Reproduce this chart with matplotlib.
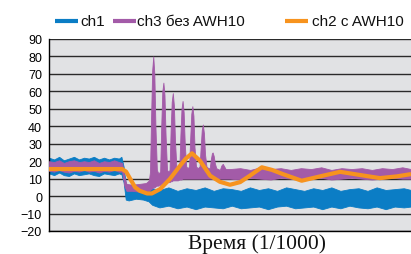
import numpy as np
import matplotlib
matplotlib.use("Agg")
import matplotlib.pyplot as plt
from matplotlib.lines import Line2D

# time axis 0..1000 (1/1000), y in the chart's units
# ch1 (blue) band: upper / lower envelope
t_ch1 = [0, 14, 28, 41, 55, 69, 83, 97, 110, 124, 138, 152, 166, 180, 193, 200,
         206, 212, 220, 240, 260, 275, 285,
         305, 330, 355, 380, 405, 430, 455, 480, 505, 530, 555, 580, 605, 630,
         655, 680, 705, 730, 755, 780, 805, 830, 855, 880, 905, 930, 955, 980, 1000]
ch1_hi = [22, 21, 22.5, 20.5, 21.5, 22.5, 21, 22, 21.5, 22.5, 21, 22, 21, 22, 21.5, 22.5,
          17, 7, 6, 6.5, 5.5, 6, 4.5,
          3.5, 5, 3, 4.5, 3.5, 5, 3, 4.5, 4, 3, 5, 3.5, 4.5, 3, 5, 4, 3, 4.5, 3.5,
          5, 3, 4, 4.5, 3, 5, 3.5, 4, 4.5, 3.5]
ch1_lo = [13, 12, 13.5, 12, 11.5, 13, 12, 12.5, 13, 12, 11.5, 13, 12.5, 12, 13, 12.5,
          8, -2, -2.5, -1.5, -2, -3, -5,
          -6.5, -5.5, -7, -6, -7.5, -6, -6.5, -7, -5.5, -7, -6.5, -6, -7.5, -6, -5.5,
          -7, -6.5, -6, -7.5, -6, -7, -5.5, -6.5, -7, -6, -7.5, -6, -6.5, -6]

# ch3 without AWH10 (purple) band
t_ch3 = [0, 14, 28, 41, 55, 69, 83, 97, 110, 124, 138, 152, 166, 180, 193, 202,
         208, 214, 230, 250, 268, 276,
         279, 282, 285, 288, 291, 294, 298, 302,
         307, 310, 313, 316, 319, 322, 326, 330,
         333, 336, 339, 342, 345, 348, 352, 356,
         360, 363, 366, 369, 372, 375, 379, 383,
         387, 390, 393, 396, 399, 402, 406, 411,
         416, 419, 422, 425, 428, 431, 435, 440,
         444, 447, 450, 452, 455, 458, 462, 467,
         472, 476, 480, 484, 488,
         500, 528, 556, 584, 612, 640, 668, 696, 724, 752, 780, 808, 836, 864,
         892, 920, 948, 976, 1000]
ch3_hi = [20, 19.5, 20.5, 19, 20, 20.5, 19.5, 20, 19.5, 20.5, 19, 20, 19.5, 20.5, 19.5, 19,
          11, 7, 6.5, 7, 7.5, 9,
          14, 45, 72, 80, 70, 40, 15, 13,
          14, 40, 60, 65, 58, 35, 15, 14,
          15, 38, 54, 59, 52, 32, 16, 15,
          16, 35, 50, 54.5, 48, 30, 17, 16,
          17, 33, 47, 51.5, 46, 28, 17, 16,
          17, 28, 38, 41, 36, 24, 17, 16,
          16, 21, 24.5, 25, 23, 19, 16, 15.5,
          15, 17.5, 18.5, 17, 15.5,
          15.5, 16, 15, 16.5, 15.5, 16, 15, 16, 15.5, 16.5, 15, 16, 15.5, 16,
          15, 16, 15.5, 16.5, 15.5]
ch3_lo = [14.5, 14, 15, 14, 13.5, 14.5, 14, 15, 14, 14.5, 13.5, 14.5, 14, 15, 14, 14,
          6, 3, 3, 2.5, 3, 3,
          3.5, 4, 4.5, 5, 5, 5.5, 6, 6,
          6.5, 7, 7, 7, 7.5, 7.5, 8, 8,
          8, 8.5, 8.5, 9, 9, 9, 9, 9,
          9.5, 9.5, 9.5, 10, 10, 10, 10, 10,
          10, 10, 10, 10, 10, 10, 10, 10,
          10, 10, 10, 10, 10, 10, 10, 10,
          10, 10, 10, 10, 10, 10, 10, 10,
          10, 10, 10, 10, 10,
          10, 9.5, 10.5, 10, 9.5, 10.5, 10, 9.5, 10, 10.5, 9.5, 10, 10.5, 10,
          9.5, 10, 10.5, 10, 10]

# ch2 with AWH10 (orange) line
t_ch2 = [0, 141, 202, 213, 224, 238, 251, 271, 284, 307, 334, 362, 378, 395, 417,
         445, 472, 500, 528, 555, 588, 616, 646, 698, 757, 804, 859, 914, 961, 1000]
ch2 = [15.5, 15.5, 15.5, 14, 10, 5, 3, 1.5, 1.5, 4, 9.8, 17.4, 21.5, 24.5, 20.3,
       11.7, 8.2, 6.5, 8, 11.7, 16.5, 15, 12.6, 8.8, 11.7, 13.9, 12.1, 10.3, 11.3, 12.6]

labels = ["ch1", "ch3 без AWH10", "ch2 с AWH10"]
colors = ["#0b7dc5", "#a35ba8", "#f7931e"]
yticks = list(range(-20, 91, 10))

fig = plt.figure(figsize=(4.11, 2.55), dpi=100)
ax = fig.add_axes([49 / 411, 23 / 255, 362 / 411, 192 / 255])
ax.set_facecolor("#e1e2e4")

ax.fill_between(t_ch1, ch1_lo, ch1_hi, color=colors[0], lw=0.6, edgecolor=colors[0], zorder=2)
ax.fill_between(t_ch3, ch3_lo, ch3_hi, color=colors[1], lw=0.6, edgecolor=colors[1], zorder=3)
ax.plot(t_ch2, ch2, color=colors[2], lw=3.0, zorder=4, solid_capstyle="butt")

ax.set_xlim(0, 1000)
ax.set_ylim(-20, 90)
ax.set_yticks(yticks)
ax.set_yticklabels([str(v).replace("-", "\u2212") for v in yticks],
                   fontfamily="Liberation Sans", fontsize=9)
ax.set_xticks([])
ax.tick_params(axis="y", length=0, pad=5)
for v in yticks:
    ax.axhline(v, color="#2a2a2a", lw=1.0, zorder=1)

for s in ["top", "right"]:
    ax.spines[s].set_visible(False)
ax.spines["left"].set_color("black")
ax.spines["bottom"].set_color("black")
ax.spines["left"].set_linewidth(1.0)
ax.spines["bottom"].set_linewidth(1.0)

# legend drawn by hand (uneven spacing in the original)
line_x = [(55, 78), (113, 136), (285, 308)]
text_x = [80, 137, 312]
for (x0, x1), tx, lab, c in zip(line_x, text_x, labels, colors):
    fig.add_artist(Line2D([x0 / 411, x1 / 411], [1 - 22.3 / 255] * 2,
                          color=c, lw=3, solid_capstyle="butt"))
    fig.text(tx / 411, 1 - 26 / 255, lab, fontfamily="Liberation Sans",
             fontsize=11, va="baseline", ha="left", color="#111111")

fig.text(257 / 411, 6 / 255, "Время (1/1000)", fontfamily="Liberation Serif",
         fontsize=15.5, ha="center", va="baseline", color="#111111")

fig.savefig("out.png", dpi=100)
